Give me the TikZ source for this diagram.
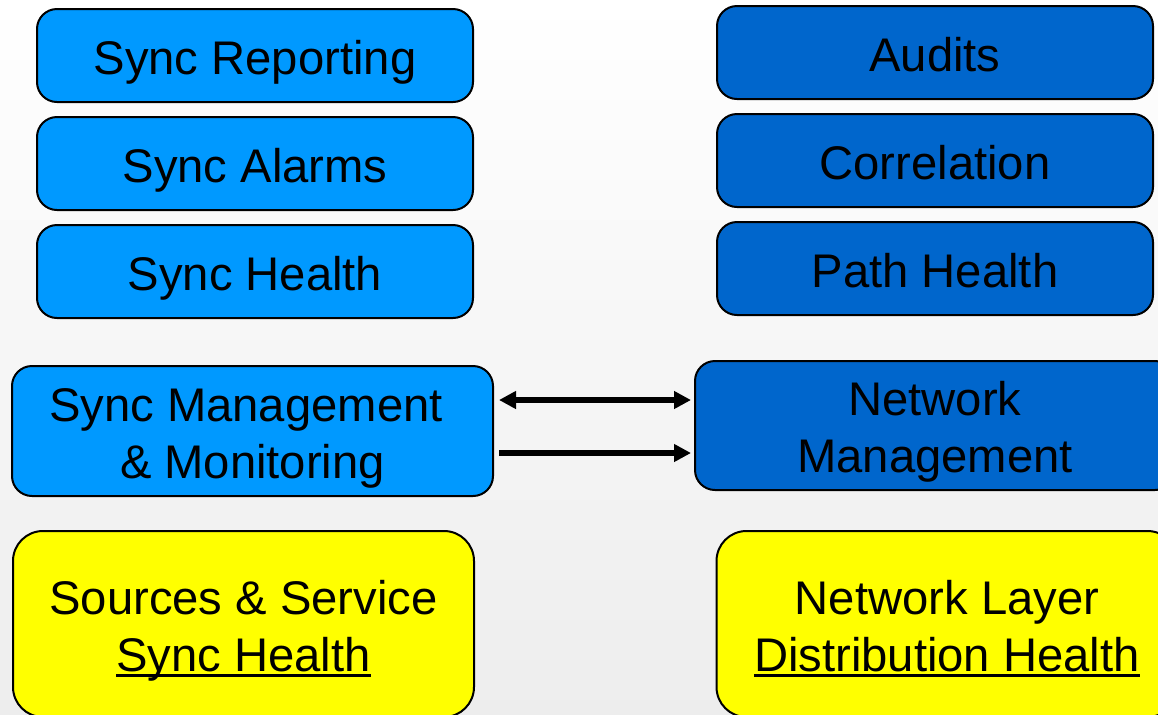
\documentclass[tikz,border=0pt]{standalone}
\usepackage{fontspec}
\setmainfont{Liberation Sans}
\usetikzlibrary{positioning,arrows.meta}
\definecolor{syncblue}{HTML}{0099FF}
\definecolor{netblue}{HTML}{0066CC}
\definecolor{healthyellow}{HTML}{FFFF00}
\newsavebox\ulbox
\newcommand{\ulin}[1]{\sbox\ulbox{#1}\rlap{\rule[-3pt]{\wd\ulbox}{1.5pt}}\usebox\ulbox}

\begin{document}
\begin{tikzpicture}[x=0.5pt,y=-0.5pt,node distance=54pt,on grid,
    >={Triangle[length=8.5pt,width=8.5pt]},
    box/.style={draw,line width=1pt,rounded corners=10pt,inner sep=0pt,align=center,
      font=\fontsize{23.6}{28.5}\selectfont,
      execute at begin node={\rule{0pt}{24pt}},
      execute at end node={\rule[-5.5pt]{0pt}{0pt}}},
    twoline/.style={execute at begin node={\rule{0pt}{52.5pt}}},
    syncbox/.style={box,fill=syncblue,minimum width=218pt,minimum height=46.5pt},
    netbox/.style={box,fill=netblue,minimum width=218pt,minimum height=46.5pt},
    healthbox/.style={box,twoline,fill=healthyellow,rounded corners=15pt,minimum width=230.5pt,minimum height=93pt},
    link/.style={line width=2.6pt,shorten <=2.5pt,shorten >=1.5pt}]
  \clip (0,0) rectangle (1158,714);
  \shade[top color=white,middle color=white,bottom color=black!7] (0,0) rectangle (1158,714);
  % sync side
  \node[syncbox] (rep) at (255,55.5) {Sync Reporting};
  \node[syncbox] (alarms) [below=of rep] {Sync Alarms};
  \node[syncbox] (synchealth) [below=of alarms] {Sync Health};
  % network side
  \node[netbox] (audits) at (935,52.5) {Audits};
  \node[netbox] (corr) [below=of audits] {Correlation};
  \node[netbox] (pathhealth) [below=of corr] {Path Health};
  \node[box,twoline,fill=syncblue,minimum width=240.5pt,minimum height=65pt] (mgmt) at (252.5,431) {Sync Management\hspace*{0.278em}\\ \& Monitoring};
  \node[box,twoline,fill=netblue,minimum width=240pt,minimum height=64.5pt] (netmgmt) at (935,425.5) {Network\\Management};
  \node[healthbox] (srchealth) at (243.5,624) {Sources \& Service\\\ulin{Sync Health}};
  \node[healthbox] (disthealth) at (947,624) {Network Layer\\\ulin{Distribution Health}};
  \coordinate (up) at ([yshift=15.5pt]mgmt.east);
  \coordinate (down) at ([yshift=-11pt]mgmt.east);
  \draw[link,<->] (up) -- (up -| netmgmt.west);
  \draw[link,->] (down) -- (down -| netmgmt.west);
\end{tikzpicture}
\end{document}
